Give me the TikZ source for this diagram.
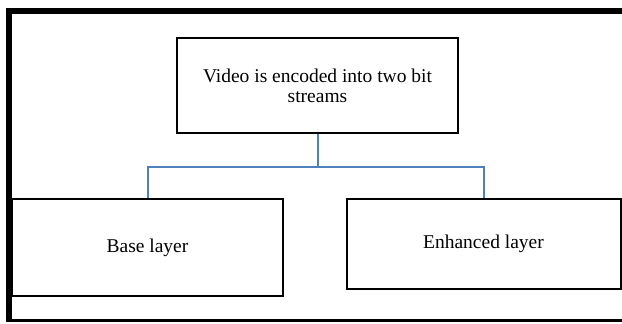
\documentclass[tikz,border=0pt]{standalone}
\usepackage{fontspec}
\setmainfont{Liberation Serif}
\definecolor{linkblue}{HTML}{4F81BD}
\begin{document}
\begin{tikzpicture}[x=1pt,y=-1pt,
  boxnode/.style={draw=black,line width=2pt,fill=white,inner sep=0pt,align=center,
    font=\fontsize{19.5}{20}\selectfont},
  link/.style={draw=linkblue,line width=2pt}]
\useasboundingbox (0,0) rectangle (622,324);
% outer frame
\draw[line width=6pt] (622,11) -- (9,11) -- (9,322);
\draw[line width=2.5pt] (9,320.5) -- (622,320.5);
% boxes
\node[boxnode,minimum width=281pt,minimum height=95pt] (top) at (317.5,85.5)
  {Video is encoded into two bit\\streams};
\node[boxnode,minimum width=271pt,minimum height=97pt] (base) at (147.5,247.5) {Base layer};
\node[boxnode,minimum width=274pt,minimum height=90pt] (enh) at (483.5,244) {Enhanced layer};
% connectors
\coordinate (mid) at (top.south |- 0,166.5);
\draw[link] (top.south) -- (mid);
\draw[link] (base.north -| 147.5,0) |- (mid) -| (enh.north);
\end{tikzpicture}
\end{document}
